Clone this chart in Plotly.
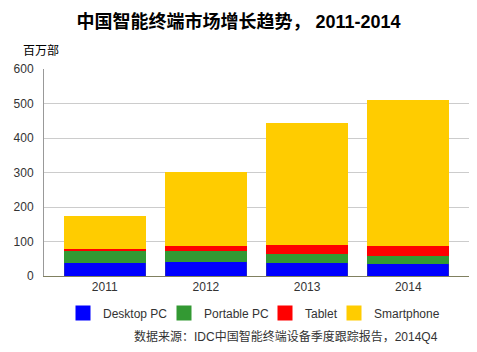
import plotly.graph_objects as go

years = ["2011", "2012", "2013", "2014"]
desktop = [40, 41.5, 38.5, 37]
portable = [33, 31, 26, 23]
tablet = [8, 14.5, 25.5, 28]
smartphone = [91, 214, 351, 421]

series = [
    ("Desktop PC", desktop, "#0000FF", "#2222cc"),
    ("Portable PC", portable, "#339933", "#339933"),
    ("Tablet", tablet, "#FF0000", "#FF0000"),
    ("Smartphone", smartphone, "#FFCC00", "#FFCC00"),
]
legend_left_px = [75, 176, 277, 346]

font_fam = "Liberation Sans, Arial, Noto Sans CJK SC, sans-serif"
W, H = 477, 352

fig = go.Figure()
for name, vals, col, lc in series:
    fig.add_trace(go.Bar(
        x=years, y=vals, name=name, width=0.8, showlegend=False,
        marker=dict(color=col, line=dict(color=lc, width=1)),
    ))
legend_ids = ["legend", "legend2", "legend3", "legend4"]
for (name, vals, col, lc), lid in zip(series, legend_ids):
    fig.add_trace(go.Scatter(
        x=[None], y=[None], name=name, mode="markers", legend=lid,
        marker=dict(symbol="square", size=15, color=col, line=dict(width=0)),
    ))

layout_legends = {}
for lid, px in zip(legend_ids, legend_left_px):
    layout_legends[lid] = dict(
        orientation="h", x=(px - 12) / W, xanchor="left", xref="container",
        y=1 - 313 / H, yanchor="middle", yref="container",
        font=dict(size=12, color="#333333"), bgcolor="rgba(0,0,0,0)",
    )

fig.update_layout(
    width=W, height=H,
    barmode="stack",
    paper_bgcolor="white", plot_bgcolor="white",
    margin=dict(l=44, r=8, t=69, b=76, autoexpand=False),
    font=dict(family=font_fam, size=12, color="#333333"),
    title=dict(
        text="<b>中国智能终端市场增长趋势， 2011-2014</b>",
        x=0.5, xanchor="center", y=1 - 22 / H, yanchor="middle",
        font=dict(size=18, color="#000000", family=font_fam),
    ),
    xaxis=dict(
        range=[-0.6, 3.6], showgrid=False, showline=True, linecolor="#808060", linewidth=1,
        ticks="", tickfont=dict(size=12, color="#333333"), automargin=False,
    ),
    yaxis=dict(
        range=[0, 600], dtick=100, showgrid=True, gridcolor="#cccccc", gridwidth=1,
        showline=True, linecolor="#999999", linewidth=1, zeroline=False, automargin=False,
        ticks="", ticklabelstandoff=7, tickfont=dict(size=12, color="#333333"),
    ),
    showlegend=True,
    **layout_legends,
)

fig.add_annotation(
    text="百万部", xref="paper", yref="paper", x=-0.055, y=1.09,
    xanchor="left", yanchor="middle", showarrow=False,
    font=dict(size=12, color="#000000"),
)
fig.add_annotation(
    text="数据来源：IDC中国智能终端设备季度跟踪报告，2014Q4", xref="paper", yref="paper",
    x=(440 - 44) / (W - 52), y=-(336 - 276) / 207, xanchor="right", yanchor="middle", showarrow=False,
    font=dict(size=12, color="#333333"),
)

fig.write_html("out.html")
